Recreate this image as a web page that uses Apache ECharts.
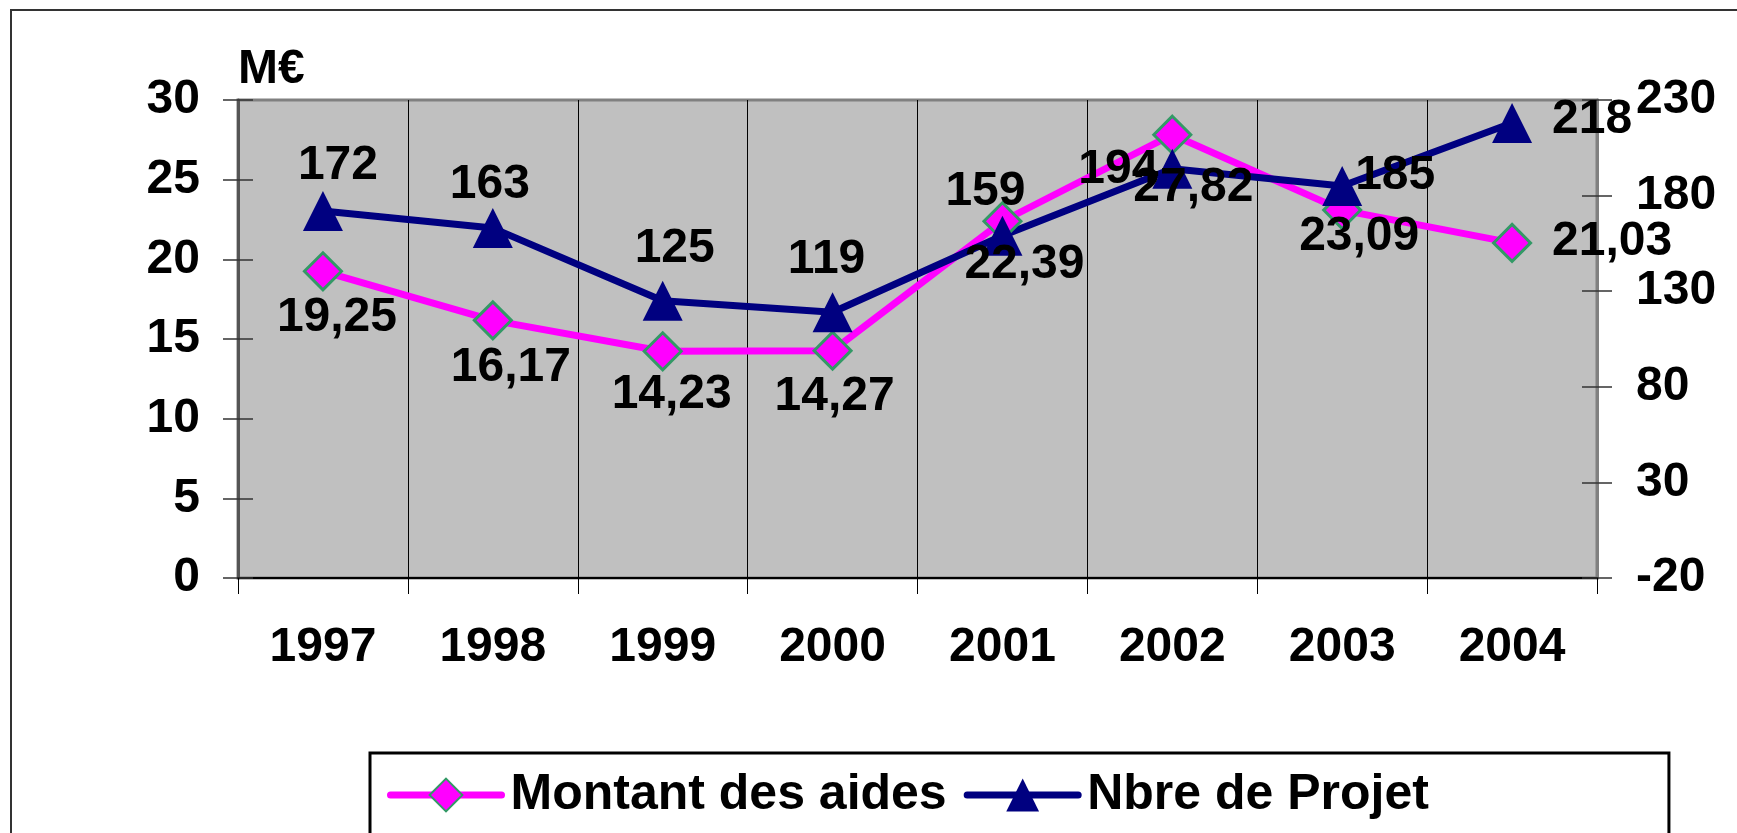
<!DOCTYPE html>
<html>
<head>
    <meta charset="utf-8">
    <title>Montant des aides / Nbre de Projet</title>
    <script src="https://cdn.jsdelivr.net/npm/echarts@6.0.0/dist/echarts.min.js"></script>
    <style>
        html, body { margin: 0; padding: 0; background: #fff; }
        #chart1 { width: 1737px; height: 833px; }
    </style>
</head>
<body>
<div id="chart1"></div>
<script type="text/javascript">
    // données du graphique
    var years = ['1997', '1998', '1999', '2000', '2001', '2002', '2003', '2004'];
    var montantAides = [19.25, 16.17, 14.23, 14.27, 22.39, 27.82, 23.09, 21.03];
    var nbreProjet = [172, 163, 125, 119, 159, 194, 185, 218];
    var rightTicks = [-20, 30, 80, 130, 180, 230];

    // décalage des étiquettes (style seulement)
    var aidesLabelOffset = [[14, 46], [18, 47], [9, 43], [2, 46], [22, 44], [21, 53], [17, 27], [100, -1]];
    var projetLabelOffset = [[15, -45], [-3, -43], [12, -52], [-6, -52], [-17, -44], [-54, 1], [53, -10], [80, -3]];

    var FONT = '"Liberation Sans", Arial, sans-serif';
    var txt = {fontSize: 48, fontWeight: 'bold', color: '#000', fontFamily: FONT};

    var myChart1 = echarts.init(document.getElementById('chart1'));

    myChart1.setOption({
        animation: false,
        graphic: [{
            type: 'rect',
            shape: {x: 11, y: 10, width: 1800, height: 900},
            style: {fill: 'none', stroke: '#333', lineWidth: 2},
            silent: true
        }],
        grid: {
            left: 238, top: 100, right: 140, bottom: 255,
            show: true,
            backgroundColor: '#C0C0C0',
            borderColor: '#808080',
            borderWidth: 3
        },
        legend: {
            left: 370, top: 753,
            itemWidth: 111, itemHeight: 41, itemGap: 17,
            padding: [17, 240, 60, 17],
            borderColor: '#000', borderWidth: 3,
            backgroundColor: '#fff',
            lineStyle: {width: 7, cap: 'round'},
            textStyle: {fontSize: 50, fontWeight: 'bold', color: '#000', fontFamily: FONT, padding: [0, 0, 0, 4]},
            data: ['Montant des aides', 'Nbre de Projet']
        },
        xAxis: {
            type: 'category',
            data: years,
            boundaryGap: true,
            axisLine: {lineStyle: {color: '#000', width: 2}},
            axisTick: {show: true, length: 16, lineStyle: {color: '#000', width: 1}},
            axisLabel: Object.assign({margin: 46}, txt),
            splitLine: {show: true, lineStyle: {color: '#000', width: 1}}
        },
        yAxis: [{
            type: 'value',
            position: 'left',
            min: 0, max: 30, interval: 5,
            name: 'M€',
            nameLocation: 'end',
            nameGap: 6,
            nameTextStyle: Object.assign({align: 'left'}, txt),
            axisLine: {show: true, lineStyle: {color: '#555', width: 3}},
            axisTick: {show: true, length: 15, lineStyle: {color: '#333', width: 1.5}},
            axisLabel: Object.assign({margin: 38}, txt),
            splitLine: {show: false}
        }, {
            type: 'value',
            position: 'right',
            min: -20, max: 230,
            axisLine: {show: true, lineStyle: {color: '#808080', width: 3}},
            axisTick: {show: true, length: 15, customValues: rightTicks, lineStyle: {color: '#333', width: 1.5}},
            axisLabel: Object.assign({margin: 39, customValues: rightTicks}, txt),
            splitLine: {show: false}
        }, {
            // tirets intérieurs gauche
            type: 'value',
            position: 'left',
            min: 0, max: 30, interval: 5,
            axisLine: {show: false},
            axisTick: {show: true, inside: true, length: 15, lineStyle: {color: '#333', width: 1.5}},
            axisLabel: {show: false},
            splitLine: {show: false}
        }, {
            // tirets intérieurs droite
            type: 'value',
            position: 'right',
            min: -20, max: 230,
            axisLine: {show: false},
            axisTick: {show: true, inside: true, length: 15, customValues: rightTicks, lineStyle: {color: '#333', width: 1.5}},
            axisLabel: {show: false},
            splitLine: {show: false}
        }],
        series: [{
            name: 'Montant des aides',
            type: 'line',
            yAxisIndex: 0,
            symbol: 'diamond',
            symbolSize: 37,
            lineStyle: {color: '#FF00FF', width: 7},
            itemStyle: {color: '#FF00FF', borderColor: '#339966', borderWidth: 3},
            label: Object.assign({
                show: true,
                position: 'inside',
                formatter: function (p) {
                    return p.value.toFixed(2).replace('.', ',');
                }
            }, txt),
            data: montantAides.map(function (v, i) {
                return {value: v, label: {offset: aidesLabelOffset[i]}};
            })
        }, {
            name: 'Nbre de Projet',
            type: 'line',
            yAxisIndex: 1,
            symbol: 'triangle',
            symbolSize: 40,
            lineStyle: {color: '#000080', width: 7},
            itemStyle: {color: '#000080'},
            label: Object.assign({show: true, position: 'inside'}, txt),
            data: nbreProjet.map(function (v, i) {
                return {value: v, label: {offset: projetLabelOffset[i]}};
            })
        }]
    });
</script>
</body>
</html>
